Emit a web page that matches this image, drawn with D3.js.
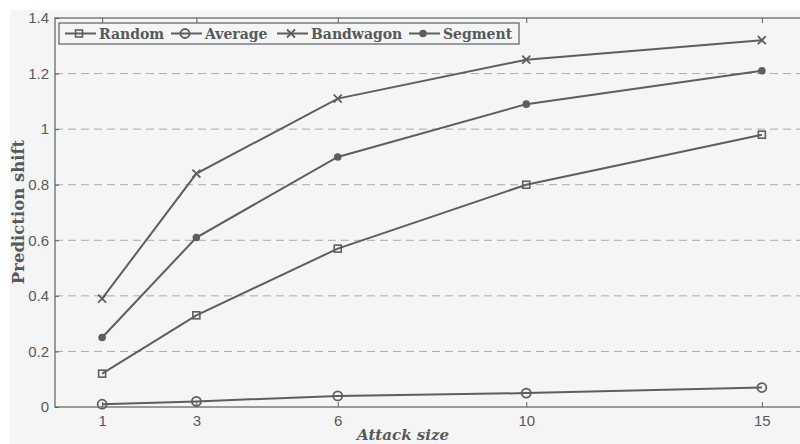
<!DOCTYPE html>
<html><head><meta charset="utf-8">
<script src="https://cdn.jsdelivr.net/npm/d3@7"></script>
<style>body{margin:0;background:#fff;}svg{display:block;}</style>
</head><body>
<script>
const attackSizes = [1, 3, 6, 10, 15];
const seriesNames = ["Random", "Average", "Bandwagon", "Segment"];
const randomVals = [0.12, 0.33, 0.57, 0.80, 0.98];
const averageVals = [0.01, 0.02, 0.04, 0.05, 0.07];
const bandwagonVals = [0.39, 0.84, 1.11, 1.25, 1.32];
const segmentVals = [0.25, 0.61, 0.90, 1.09, 1.21];
const yTicks = [0, 0.2, 0.4, 0.6, 0.8, 1, 1.2, 1.4];
const yTickLabels = ["0", "0.2", "0.4", "0.6", "0.8", "1", "1.2", "1.4"];
const markers = ["square", "circle", "cross", "dot"];

const series = [randomVals, averageVals, bandwagonVals, segmentVals].map((v, i) => ({
  name: seriesNames[i], marker: markers[i], values: v.map((y, j) => ({x: attackSizes[j], y}))
}));

const W = 800, H = 444;
const ink = "#5a605f";
const txt = "#555a5a";
const serif = "DejaVu Serif, serif";
const svg = d3.select("body").append("svg").attr("width", W).attr("height", H);
svg.append("rect").attr("x", 10).attr("y", 10).attr("width", W - 10).attr("height", H - 10).attr("fill", "#f5f5f5");

const x = d3.scaleLinear().domain([0, 16]).range([55, 809]);
const y = d3.scaleLinear().domain([0, 1.4]).range([407, 18]);

// gridlines
svg.append("g").selectAll("line").data(yTicks.filter(t => t > 0 && t < 1.4)).join("line")
  .attr("x1", x(0)).attr("x2", x(16)).attr("y1", d => y(d)).attr("y2", d => y(d))
  .attr("stroke", "#a8abab").attr("stroke-width", 1).attr("stroke-dasharray", "8,5");

// frame
svg.append("rect").attr("x", x(0)).attr("y", y(1.4)).attr("width", x(16) - x(0)).attr("height", y(0) - y(1.4))
  .attr("fill", "none").attr("stroke", ink).attr("stroke-width", 1.2);

// axes
const yAxis = d3.axisLeft(y).tickValues(yTicks).tickFormat((d, i) => yTickLabels[i]).tickSize(-4).tickPadding(6);
const gy = svg.append("g").attr("transform", `translate(${x(0)},0)`).call(yAxis);
const xAxis = d3.axisBottom(x).tickValues(attackSizes).tickFormat(d3.format("d")).tickSize(-5).tickPadding(8);
const gx = svg.append("g").attr("transform", `translate(0,${y(0)})`).call(xAxis);
const xTop = d3.axisTop(x).tickValues(attackSizes).tickFormat("").tickSize(-5);
svg.append("g").attr("transform", `translate(0,${y(1.4)})`).call(xTop);
[gy, gx].forEach(g => {
  g.selectAll("text").attr("font-family", "Liberation Sans, Arial, sans-serif").attr("font-size", 15).attr("fill", txt);
});
svg.selectAll(".domain").remove();
svg.selectAll(".tick line").attr("stroke", ink);

// lines
const line = d3.line().x(d => x(d.x)).y(d => y(d.y));
const sym = {
  square: (g, cx, cy) => g.append("rect").attr("x", cx - 3.5).attr("y", cy - 3.5).attr("width", 7).attr("height", 7).attr("fill", "none").attr("stroke", ink).attr("stroke-width", 1.6),
  circle: (g, cx, cy) => g.append("circle").attr("cx", cx).attr("cy", cy).attr("r", 4.5).attr("fill", "none").attr("stroke", ink).attr("stroke-width", 1.8),
  cross: (g, cx, cy) => g.append("path").attr("d", `M${cx-4},${cy-4}L${cx+4},${cy+4}M${cx-4},${cy+4}L${cx+4},${cy-4}`).attr("stroke", ink).attr("stroke-width", 1.8),
  dot: (g, cx, cy) => g.append("circle").attr("cx", cx).attr("cy", cy).attr("r", 3.8).attr("fill", ink)
};
series.forEach(s => {
  const g = svg.append("g");
  g.append("path").datum(s.values).attr("d", line).attr("fill", "none").attr("stroke", ink).attr("stroke-width", 2);
  s.values.forEach(p => sym[s.marker](g, x(p.x), y(p.y)));
});

// legend
const lg = svg.append("g");
lg.append("rect").attr("x", 59).attr("y", 23).attr("width", 460).attr("height", 21)
  .attr("fill", "#f5f5f5").attr("stroke", ink).attr("stroke-width", 1.2);
const legendTextX = [99, 205, 311, 443];
series.forEach((s, i) => {
  const tx = legendTextX[i], ly = 33.5;
  lg.append("line").attr("x1", tx - 34).attr("x2", tx - 3).attr("y1", ly).attr("y2", ly).attr("stroke", ink).attr("stroke-width", 2);
  sym[s.marker](lg, tx - 20, ly);
  lg.append("text").attr("x", tx).attr("y", ly + 5).text(s.name)
    .attr("font-family", serif).attr("font-weight", "bold")
    .attr("font-size", 14).attr("fill", txt);
});

// axis titles
svg.append("text").attr("x", 403).attr("y", 440).attr("text-anchor", "middle").text("Attack size")
  .attr("font-family", serif).attr("font-weight", "bold").attr("font-style", "italic")
  .attr("font-size", 15).attr("fill", txt);
svg.append("text").attr("transform", `translate(24,212) rotate(-90)`).attr("text-anchor", "middle").text("Prediction shift")
  .attr("font-family", serif).attr("font-weight", "bold")
  .attr("font-size", 16.5).attr("fill", txt);
</script>
</body></html>
